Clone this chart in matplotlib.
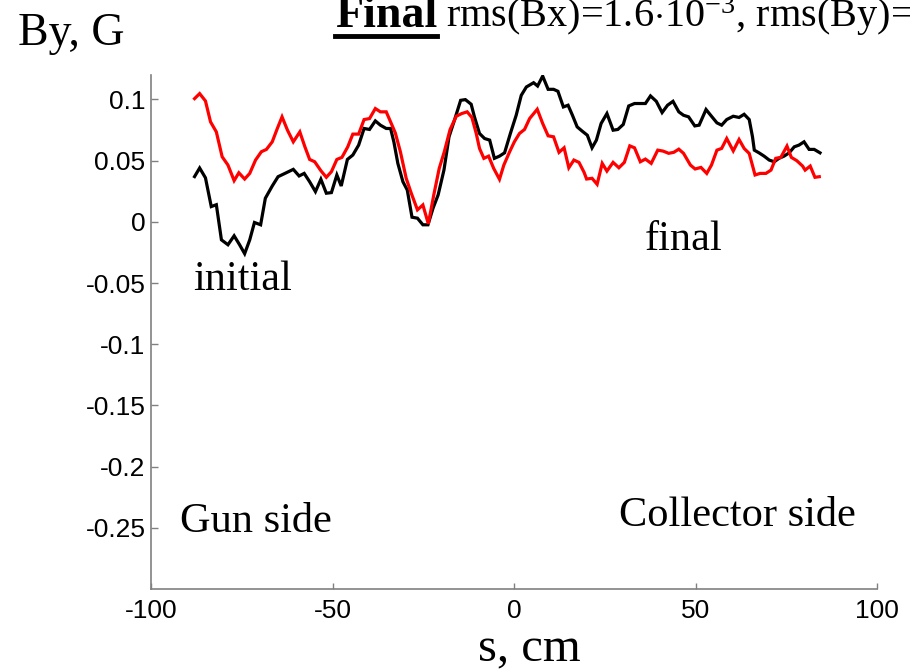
import matplotlib
matplotlib.use("Agg")
import matplotlib.pyplot as plt
from matplotlib.lines import Line2D

plt.rcParams['mathtext.fontset'] = 'custom'
plt.rcParams['mathtext.rm'] = 'Liberation Serif'
plt.rcParams['mathtext.it'] = 'Liberation Serif:italic'
plt.rcParams['mathtext.bf'] = 'Liberation Serif:bold'

# ---- data ----
s_black = [-88.0, -86.6, -85.0, -83.4, -82.0, -80.6, -78.8, -77.1, -75.6, -74.2, -72.8, -71.5, -69.8,
           -68.5, -66.6, -65.0, -63.1, -60.8, -59.2, -57.8, -56.3, -54.7, -53.2, -51.7, -50.3, -48.8,
           -47.6, -45.9, -44.4, -42.8, -41.3, -39.8, -38.2, -36.8, -35.2, -34.0, -33.1, -32.0, -30.6,
           -29.4, -28.1, -26.6, -25.1, -23.7, -22.3, -20.9, -19.3, -17.9, -16.4, -14.7, -13.4, -11.8,
           -10.9, -9.5, -8.1, -6.7, -5.4, -4.0, -2.6, -1.0, 0.6, 2.0, 3.4, 5.4, 6.5, 7.9, 9.4, 10.9,
           12.1, 13.6, 14.9, 16.1, 17.4, 18.8, 20.2, 21.5, 22.7, 24.0, 25.6, 27.3, 28.6, 30.1, 31.6,
           33.2, 34.8, 36.2, 37.6, 39.2, 40.8, 42.3, 43.8, 45.4, 46.7, 48.1, 49.8, 51.0, 52.9, 54.4,
           55.9, 57.2, 58.6, 60.4, 62.0, 63.4, 64.8, 65.7, 66.2, 67.5, 68.9, 70.3, 71.7, 73.0, 74.4,
           75.8, 77.2, 78.5, 79.9, 81.3, 82.7, 84.3]
by_black = [0.037, 0.044, 0.036, 0.0125, 0.014, -0.0147, -0.0187, -0.0114, -0.0187, -0.026, -0.0147,
            -0.0005, -0.0024, 0.0193, 0.0293, 0.0369, 0.0396, 0.0429, 0.0375, 0.0396, 0.0328, 0.0247,
            0.0348, 0.0234, 0.0239, 0.0383, 0.0293, 0.051, 0.0546, 0.0627, 0.0763, 0.0755, 0.0825,
            0.079, 0.0763, 0.0763, 0.0654, 0.0478, 0.0328, 0.026, 0.0038, 0.003, -0.0024, -0.0024,
            0.0112, 0.022, 0.0423, 0.0695, 0.0831, 0.0993, 0.0999, 0.0961, 0.0858, 0.0722, 0.0681,
            0.0668, 0.0519, 0.0537, 0.0564, 0.0722, 0.0871, 0.1034, 0.1102, 0.1137, 0.111, 0.1191,
            0.1083, 0.1083, 0.1067, 0.0939, 0.0953, 0.0871, 0.0776, 0.0741, 0.0708, 0.0605, 0.0668,
            0.0804, 0.0885, 0.0749, 0.0755, 0.0796, 0.0947, 0.0967, 0.0967, 0.0967, 0.1029, 0.0985,
            0.0893, 0.0953, 0.0985, 0.0899, 0.0871, 0.0858, 0.0784, 0.079, 0.0918, 0.0863, 0.0809,
            0.079, 0.0836, 0.0863, 0.0853, 0.0879, 0.0836, 0.0695, 0.0586, 0.0564, 0.0537, 0.0505,
            0.0491, 0.0519, 0.0537, 0.0564, 0.0613, 0.0627, 0.0654, 0.0592, 0.0592, 0.0564]

s_red = [-88.0, -86.6, -85.0, -83.6, -82.0, -80.4, -78.8, -77.1, -75.8, -74.2, -72.8, -71.2, -69.6,
         -68.2, -66.6, -65.2, -63.9, -62.4, -60.8, -59.0, -57.6, -56.3, -54.9, -53.2, -51.7, -50.3,
         -48.8, -47.4, -45.8, -44.4, -42.8, -41.3, -39.8, -38.2, -36.8, -35.2, -34.0, -32.7, -31.3,
         -29.7, -28.3, -26.6, -25.1, -23.6, -22.1, -20.6, -19.2, -17.6, -15.9, -14.4, -12.9, -11.6,
         -10.4, -9.5, -8.3, -7.0, -5.6, -4.0, -2.8, -1.2, 0.1, 1.5, 2.9, 4.3, 6.4, 7.9, 9.4, 10.9,
         12.4, 13.8, 15.1, 16.5, 17.9, 19.3, 20.0, 21.5, 22.9, 24.3, 25.6, 27.3, 28.9, 30.4, 31.9,
         33.2, 34.8, 36.2, 37.8, 39.6, 41.1, 42.6, 44.0, 45.4, 46.7, 48.6, 49.9, 51.5, 53.1, 54.4,
         55.9, 57.2, 58.6, 60.4, 62.0, 63.4, 64.8, 66.4, 67.8, 69.4, 70.8, 72.1, 73.5, 75.2, 76.4,
         77.9, 79.5, 80.2, 81.6, 82.9, 84.1]
by_red = [0.1007, 0.1048, 0.0988, 0.0817, 0.0735, 0.0532, 0.0464, 0.0337, 0.0401, 0.035, 0.0396,
          0.0505, 0.0573, 0.0592, 0.0654, 0.0763, 0.0858, 0.0749, 0.0654, 0.0735, 0.0613, 0.051,
          0.0491, 0.0418, 0.0364, 0.041, 0.051, 0.0527, 0.0613, 0.0717, 0.0717, 0.0836, 0.0844,
          0.0926, 0.0899, 0.0899, 0.0817, 0.0727, 0.0573, 0.0356, 0.0234, 0.0098, 0.0138, -0.0016,
          0.022, 0.0437, 0.0573, 0.0755, 0.0863, 0.0885, 0.0899, 0.0853, 0.0722, 0.06, 0.0519,
          0.0537, 0.0437, 0.0348, 0.0464, 0.0573, 0.0654, 0.0722, 0.0755, 0.0844, 0.092, 0.0804,
          0.0703, 0.0695, 0.0568, 0.0605, 0.0442, 0.0505, 0.0486, 0.0405, 0.035, 0.0356, 0.0307,
          0.0478, 0.0415, 0.0486, 0.0442, 0.0486, 0.0621, 0.0605, 0.0491, 0.0513, 0.0478, 0.0586,
          0.0578, 0.056, 0.0568, 0.0594, 0.056, 0.0464, 0.0432, 0.0445, 0.0396, 0.0464, 0.0586,
          0.06, 0.0681, 0.058, 0.0673, 0.06, 0.0559, 0.0383, 0.0396, 0.0396, 0.0423, 0.0519,
          0.0527, 0.0619, 0.0527, 0.05, 0.0456, 0.0423, 0.0456, 0.0364, 0.0369]

x_ticks = [-100, -50, 0, 50, 100]
x_tick_labels = ['-100', '-50', '0', '50', '100']
y_ticks = [-0.25, -0.2, -0.15, -0.1, -0.05, 0, 0.05, 0.1]
y_tick_labels = ['-0.25', '-0.2', '-0.15', '-0.1', '-0.05', '0', '0.05', '0.1']

# ---- figure ----
fig = plt.figure(figsize=(9.1, 6.7), dpi=100)
ax = fig.add_axes([151 / 910, 81 / 670, 726 / 910, 514 / 670])

ax.plot(s_black, by_black, color='black', lw=2.3, solid_joinstyle='miter')
ax.plot(s_red, by_red, color='#ff0000', lw=2.3, solid_joinstyle='miter')

ax.set_xlim(-100, 100)
ax.set_ylim(-0.3, 0.12)
ax.set_xticks(x_ticks)
ax.set_xticklabels(x_tick_labels)
ax.set_yticks(y_ticks)
ax.set_yticklabels(y_tick_labels)

for side in ['top', 'right']:
    ax.spines[side].set_visible(False)
for side in ['left', 'bottom']:
    ax.spines[side].set_color('#808080')
    ax.spines[side].set_linewidth(1.2)

ax.tick_params(axis='y', direction='in', length=5, color='#808080', width=1,
               labelsize=19, pad=4)
ax.tick_params(axis='x', direction='in', length=4, color='#808080', width=1,
               labelsize=19, pad=7)
for lab in ax.get_xticklabels() + ax.get_yticklabels():
    lab.set_family('Liberation Sans')

serif = 'Liberation Serif'
ax.text(-88.4, -0.0554, 'initial', family=serif, fontsize=30.5, va='baseline', ha='left')
ax.text(35.9, -0.0228, 'final', family=serif, fontsize=30.5, va='baseline', ha='left')
ax.text(-92.0, -0.2533, 'Gun side', family=serif, fontsize=30.5, va='baseline', ha='left')
ax.text(29.0, -0.2484, 'Collector side', family=serif, fontsize=30.5, va='baseline', ha='left')

fig.text(18 / 910, 1 - 45 / 670, 'By, G', family=serif, fontsize=33, va='baseline', ha='left')
fig.text(529 / 910, 1 - 661 / 670, 's, cm', family=serif, fontsize=35, va='baseline', ha='center')

t1 = fig.text(335 / 910, 1 - 27 / 670, 'Final', family=serif, fontsize=33, fontweight='bold',
              va='baseline', ha='left')
fig.canvas.draw()
r = fig.canvas.get_renderer()
bb = t1.get_window_extent(renderer=r)
x0f, x1f = bb.x0 / 910, bb.x1 / 910
fig.add_artist(Line2D([x0f, x1f], [1 - 36 / 670, 1 - 36 / 670], color='black', lw=3.5,
                      transform=fig.transFigure))
fig.text(x1f + 9 / 910, 1 - 27 / 670, r'rms(Bx)=1.6$\cdot$10$^{-3}$, rms(By)=',
         family=serif, fontsize=29, va='baseline', ha='left')

fig.savefig('out.png', dpi=100)
